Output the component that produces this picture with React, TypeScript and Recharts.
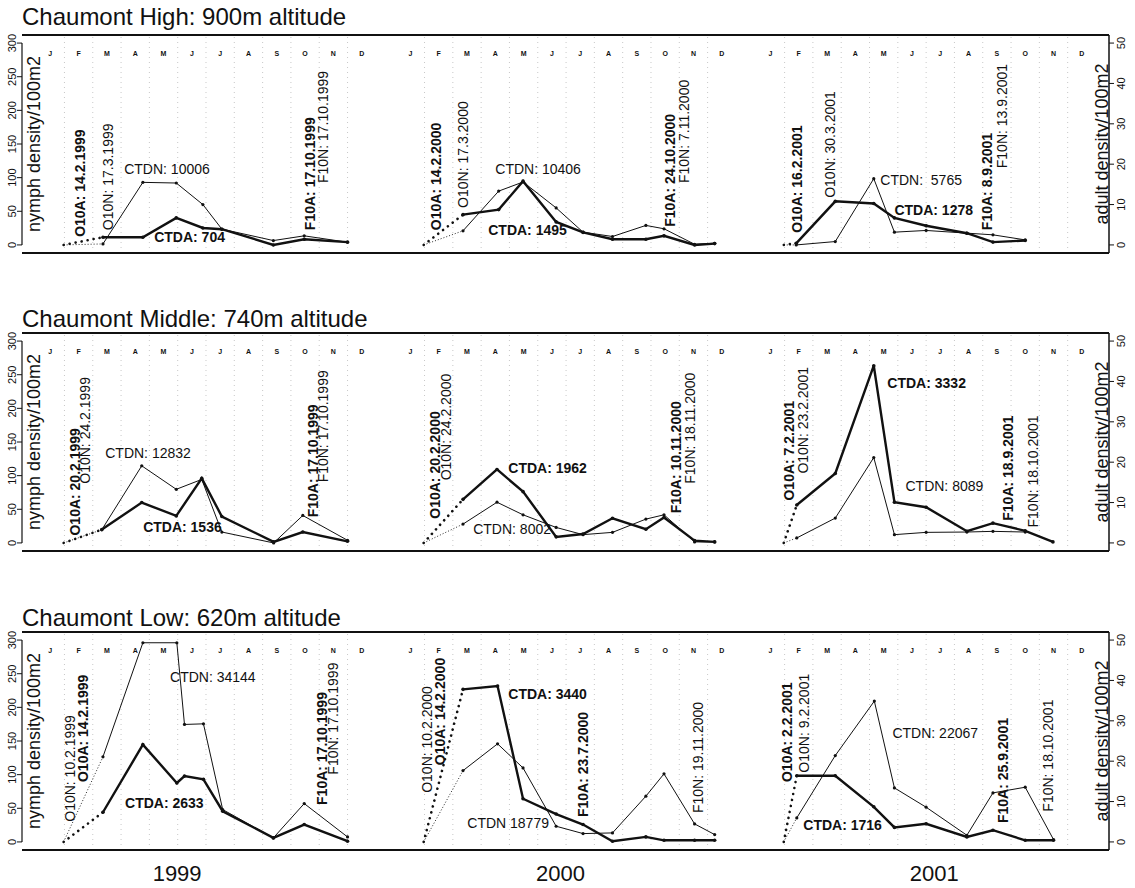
import React from 'react'
import { ComposedChart, Line, Scatter, XAxis, YAxis, ReferenceLine } from 'recharts'

type Pt = [number, number]
// [year index, month position in year, nymph-scale value, text, kind]
type Lab = [number, number, number, string, string]

const monthLetters = ['J', 'F', 'M', 'A', 'M', 'J', 'J', 'A', 'S', 'O', 'N', 'D']
const yearNames = ['1999', '2000', '2001']
const yearLabelMonth = [4.98, 5.8, 6.29]
const nymphTicks = [0, 50, 100, 150, 200, 250, 300]
const adultTicks = [0, 10, 20, 30, 40, 50]
const seasonStart = 0.97

// points are [month position inside the year, density]
const highNymph: Pt[][] = [
  [[2.36, 1.5], [3.77, 93], [4.95, 92], [5.89, 60], [6.56, 23.5], [8.38, 6.5], [9.47, 13.5], [11.0, 4]],
  [[2.36, 21], [3.62, 80], [4.48, 93.5], [5.65, 55], [6.6, 19], [7.64, 12.5], [8.82, 29], [9.46, 24], [10.54, 1], [11.25, 2.5]],
  [[1.41, 0], [2.79, 5], [4.15, 98.5], [4.88, 19], [6.0, 21.5], [7.44, 17.5], [8.36, 15], [9.5, 7.5]],
]
const highAdult: Pt[][] = [
  [[2.36, 1.9], [3.77, 1.9], [4.95, 6.7], [5.89, 4.2], [6.56, 3.9], [8.38, 0], [9.47, 1.4], [11.0, 0.7]],
  [[2.36, 7.5], [3.62, 8.75], [4.48, 15.8], [5.65, 5.7], [6.6, 3.1], [7.64, 1.4], [8.82, 1.4], [9.46, 2.25], [10.54, 0], [11.25, 0.33]],
  [[1.41, 0.4], [2.79, 10.8], [4.15, 10.25], [4.88, 6.7], [6.0, 4.75], [7.44, 2.9], [8.36, 0.7], [9.5, 1.1]],
]
const midNymph: Pt[][] = [
  [[2.32, 19.7], [3.73, 114.6], [4.95, 79.7], [5.85, 94.4], [6.56, 16.2], [8.39, 0], [9.42, 40.8], [11.0, 3.9]],
  [[2.36, 28], [3.56, 60.5], [4.48, 41.8], [5.65, 23], [6.6, 12.3], [7.64, 15.7], [8.82, 35.4], [9.46, 41.8], [10.54, 1.5], [11.25, 1.5]],
  [[1.43, 7.4], [2.79, 36.9], [4.15, 126.9], [4.88, 12.3], [6.0, 15.7], [7.44, 16.2], [8.36, 17.2], [9.5, 16.2]],
]
const midAdult: Pt[][] = [
  [[2.32, 3.3], [3.73, 10], [4.95, 6.7], [5.85, 16], [6.56, 6.55], [8.39, 0.25], [9.42, 2.7], [11.0, 0.4]],
  [[2.36, 10.8], [3.56, 18.2], [4.48, 12.7], [5.65, 1.5], [6.6, 2.2], [7.64, 6.1], [8.82, 3.4], [9.46, 6.3], [10.54, 0.57], [11.25, 0.25]],
  [[1.43, 9.4], [2.79, 17.2], [4.15, 43.9], [4.88, 10.1], [6.0, 8.85], [7.44, 2.9], [8.36, 4.9], [9.5, 3.0], [10.48, 0.25]],
]
const lowNymph: Pt[][] = [
  [[2.36, 126.5], [3.77, 296], [4.97, 296], [5.24, 174.6], [5.91, 175.5], [6.59, 48.1], [8.38, 6], [9.47, 57], [11.0, 7.4]],
  [[2.36, 106], [3.58, 145.8], [4.48, 110], [5.65, 23.3], [6.6, 12.4], [7.64, 13.4], [8.82, 68], [9.46, 101.2], [10.54, 26.8], [11.25, 10.9]],
  [[1.43, 35.7], [2.79, 128.4], [4.17, 209.3], [4.88, 80.3], [6.0, 51.6], [7.44, 9.9], [8.36, 72.9], [9.5, 81.3], [10.5, 3.5]],
]
const lowAdult: Pt[][] = [
  [[2.36, 7.35], [3.77, 24.1], [4.97, 14.6], [5.24, 16.3], [5.91, 15.5], [6.59, 7.6], [8.38, 1.0], [9.47, 4.3], [11.0, 0.17]],
  [[2.36, 37.8], [3.58, 38.6], [4.48, 10.7], [5.65, 6.9], [6.6, 4.3], [7.64, 0.17], [8.82, 1.24], [9.46, 0.4], [10.54, 0.4], [11.25, 0.4]],
  [[1.43, 16.4], [2.79, 16.4], [4.15, 8.7], [4.88, 3.6], [6.0, 4.5], [7.44, 1.24], [8.36, 2.9], [9.5, 0.4], [10.5, 0.4]],
]

// b = bold rotated, n = normal rotated, bh / nh = horizontal
const highLabels: Lab[] = [
  [0, 1.55, 12, 'O10A: 14.2.1999', 'b'],
  [0, 2.54, 22, 'O10N: 17.3.1999', 'n'],
  [0, 3.11, 113, 'CTDN: 10006', 'nh'],
  [0, 4.17, 12, 'CTDA: 704', 'bh'],
  [0, 9.68, 22, 'F10A: 17.10.1999', 'b'],
  [0, 10.14, 92, 'F10N: 17.10.1999', 'n'],
  [1, 1.41, 22, 'O10A: 14.2.2000', 'b'],
  [1, 2.37, 55, 'O10N: 17.3.2000', 'n'],
  [1, 3.5, 113, 'CTDN: 10406', 'nh'],
  [1, 3.25, 22, 'CTDA: 1495', 'bh'],
  [1, 9.68, 27, 'F10A: 24.10.2000', 'b'],
  [1, 10.18, 92, 'F10N: 7.11.2000', 'n'],
  [2, 1.45, 18, 'O10A: 16.2.2001', 'b'],
  [2, 2.61, 70, 'O10N: 30.3.2001', 'n'],
  [2, 4.38, 97, 'CTDN:  5765', 'nh'],
  [2, 4.88, 52, 'CTDA: 1278', 'bh'],
  [2, 8.16, 22, 'F10A: 8.9.2001', 'b'],
  [2, 8.69, 114, 'F10N: 13.9.2001', 'n'],
]
const midLabels: Lab[] = [
  [0, 1.38, 11, 'O10A: 20.2.1999', 'b'],
  [0, 1.73, 88, 'O10N: 24.2.1999', 'n'],
  [0, 2.44, 133, 'CTDN: 12832', 'nh'],
  [0, 3.78, 23, 'CTDA: 1536', 'bh'],
  [0, 9.79, 38, 'F10A: 17.10.1999', 'b'],
  [0, 10.14, 90, 'F10N: 17.10.1999', 'n'],
  [1, 1.38, 36, 'O10A: 20.2.2000', 'b'],
  [1, 1.77, 93, 'O10N: 24.2.2000', 'n'],
  [1, 3.96, 111, 'CTDA: 1962', 'bh'],
  [1, 2.72, 20, 'CTDN: 8002', 'nh'],
  [1, 9.89, 44, 'F10A: 10.11.2000', 'b'],
  [1, 10.39, 88, 'F10N: 18.11.2000', 'n'],
  [2, 1.17, 63, 'O10A: 7.2.2001', 'b'],
  [2, 1.66, 103, 'O10N: 23.2.2001', 'n'],
  [2, 4.63, 237, 'CTDA: 3332', 'bh'],
  [2, 5.27, 85, 'CTDN: 8089', 'nh'],
  [2, 8.9, 33, 'F10A: 18.9.2001', 'b'],
  [2, 9.79, 23, 'F10N: 18.10.2001', 'n'],
]
const lowLabels: Lab[] = [
  [0, 1.2, 30, 'O10N: 10.2.1999', 'n'],
  [0, 1.66, 89, 'O10A: 14.2.1999', 'b'],
  [0, 4.73, 245, 'CTDN: 34144', 'nh'],
  [0, 3.14, 58, 'CTDA: 2633', 'bh'],
  [0, 10.1, 55, 'F10A: 17.10.1999', 'b'],
  [0, 10.49, 100, 'F10N: 17.10.1999', 'n'],
  [1, 1.1, 73, 'O10N: 10.2.2000', 'n'],
  [1, 1.55, 114, 'O10A: 14.2.2000', 'b'],
  [1, 3.96, 220, 'CTDA: 3440', 'bh'],
  [1, 2.51, 28, 'CTDN 18779', 'nh'],
  [1, 6.61, 37, 'F10A: 23.7.2000', 'b'],
  [1, 10.67, 43, 'F10N: 19.11.2000', 'n'],
  [2, 1.1, 89, 'O10A: 2.2.2001', 'b'],
  [2, 1.7, 103, 'O10N: 9.2.2001', 'n'],
  [2, 4.81, 162, 'CTDN: 22067', 'nh'],
  [2, 1.66, 25, 'CTDA: 1716', 'bh'],
  [2, 8.73, 28, 'F10A: 25.9.2001', 'b'],
  [2, 10.32, 45, 'F10N: 18.10.2001', 'n'],
]
const axisTitles: Lab[] = [
  [0, -0.07, 150, 'nymph density/100m2', 'axis'],
  [0, 37.67, 150, 'adult density/100m2', 'axis'],
]

const YEAR_SPAN = 12.72
const X_DOMAIN: [number, number] = [-0.5, 37.9]
const INK = '#111'
const FONT = '"Liberation Sans", Arial, Helvetica, sans-serif'
const PLOT_TOP = 35
const PLOT_H = 218

const xPos = (yi: number, m: number) => yi * YEAR_SPAN + m

const renderText = (p: any) => {
  const { cx, cy, payload } = p
  const k = payload.kind
  if (k === 'month') {
    return (
      <text x={cx} y={cy} textAnchor="middle" dominantBaseline="central" fontSize={7}
        fontWeight="bold" fill={INK} fontFamily={FONT}>{payload.text}</text>
    )
  }
  const bold = k === 'b' || k === 'bh'
  const rotated = k === 'b' || k === 'n' || k === 'axis'
  return (
    <text x={cx} y={cy} transform={rotated ? `rotate(-90 ${cx} ${cy})` : undefined}
      textAnchor={k === 'axis' ? 'middle' : 'start'} dominantBaseline="central"
      fontSize={k === 'axis' ? 18 : 14} fontWeight={bold ? 'bold' : 'normal'}
      fill={INK} fontFamily={FONT} style={{ whiteSpace: 'pre' }}>{payload.text}</text>
  )
}

const rotTick = (p: any) => (
  <text x={p.x} y={p.y} transform={`rotate(-90 ${p.x} ${p.y})`} textAnchor="middle"
    dominantBaseline="central" fontSize={11} fill={INK} fontFamily={FONT}>{p.payload.value}</text>
)

const yearTick = (p: any) => (
  <text x={p.x} y={p.y + 23} textAnchor="middle" dominantBaseline="central" fontSize={22}
    fill={INK} fontFamily={FONT}>{yearNames[p.index]}</text>
)

interface PanelProps {
  title: string
  nymph: Pt[][]
  adult: Pt[][]
  labels: Lab[]
  top: number
  titleY: number
  showYears?: boolean
}

const Panel = ({ title, nymph, adult, labels, top, titleY, showYears }: PanelProps) => {
  const xAxisH = showYears ? 38 : 0
  const height = PLOT_TOP + PLOT_H + (showYears ? xAxisH : 9)

  const series: React.ReactNode[] = []
  nymph.forEach((pts, yi) => {
    const d = pts.map(([m, v]) => ({ x: xPos(yi, m), y: v }))
    series.push(
      <Line key={`nd${yi}`} data={[{ x: xPos(yi, seasonStart), y: 0 }, d[0]]} dataKey="y"
        xAxisId="x" yAxisId="left" stroke={INK} strokeWidth={0.9} strokeDasharray="1 2"
        dot={false} isAnimationActive={false} />
    )
    series.push(
      <Line key={`n${yi}`} data={d} dataKey="y" xAxisId="x" yAxisId="left" stroke={INK}
        strokeWidth={1} dot={{ r: 1.6, fill: INK, stroke: 'none' }} isAnimationActive={false} />
    )
  })
  adult.forEach((pts, yi) => {
    const d = pts.map(([m, v]) => ({ x: xPos(yi, m), y: v }))
    series.push(
      <Line key={`ad${yi}`} data={[{ x: xPos(yi, seasonStart), y: 0 }, d[0]]} dataKey="y"
        xAxisId="x" yAxisId="right" stroke={INK} strokeWidth={2.6} strokeDasharray="0.1 6"
        strokeLinecap="round" dot={false} isAnimationActive={false} />
    )
    series.push(
      <Line key={`a${yi}`} data={d} dataKey="y" xAxisId="x" yAxisId="right" stroke={INK}
        strokeWidth={2.4} dot={{ r: 1.8, fill: INK, stroke: 'none' }} isAnimationActive={false} />
    )
  })

  const grid: React.ReactNode[] = []
  yearNames.forEach((_, yi) => {
    for (let k = 1; k < 12; k++) {
      grid.push(
        <ReferenceLine key={`g${yi}-${k}`} xAxisId="x" yAxisId="left" x={xPos(yi, k)}
          stroke="#b0b0b0" strokeWidth={0.7} strokeDasharray="1 4" />
      )
    }
  })

  const monthData = yearNames.flatMap((_, yi) =>
    monthLetters.map((t, k) => ({ x: xPos(yi, k + 0.5), y: 285, text: t, kind: 'month' }))
  )
  const labelData = [...labels, ...axisTitles].map(([yi, m, v, text, kind]) => ({
    x: xPos(yi, m), y: v, text, kind,
  }))
  const yearTicks = yearLabelMonth.map((m, i) => xPos(i, m))

  return (
    <div style={{ position: 'absolute', left: 0, top, width: 1135, height }}>
      <ComposedChart width={1135} height={height}
        margin={{ top: PLOT_TOP, right: 0, bottom: showYears ? 0 : 9, left: 0 }}>
        <XAxis xAxisId="x" type="number" dataKey="x" domain={X_DOMAIN} allowDataOverflow
          hide={!showYears} ticks={yearTicks} interval={0} height={xAxisH} axisLine={false}
          tickLine={false} tickSize={0} tickMargin={0} tick={yearTick} />
        <YAxis yAxisId="left" dataKey="y" domain={[-12, 312]} allowDataOverflow ticks={nymphTicks}
          interval={0} width={22} axisLine={false} tickSize={5} tickMargin={5}
          tickLine={{ stroke: INK }} tick={rotTick} />
        <YAxis yAxisId="right" orientation="right" dataKey="y" domain={[-2, 52]} allowDataOverflow
          ticks={adultTicks} interval={0} width={26} axisLine={{ stroke: INK, strokeWidth: 1.5 }}
          tickSize={5} tickMargin={7} tickLine={{ stroke: INK }} tick={rotTick} />
        {grid}
        <ReferenceLine xAxisId="x" yAxisId="left" y={312} stroke={INK} strokeWidth={2} />
        <ReferenceLine xAxisId="x" yAxisId="left" y={-12} stroke={INK} strokeWidth={2} />
        <ReferenceLine xAxisId="x" yAxisId="left" ifOverflow="visible" stroke={INK} strokeWidth={1.2}
          segment={[{ x: X_DOMAIN[0], y: 0 }, { x: X_DOMAIN[0], y: 300 }]} />
        {series}
        <Scatter xAxisId="x" yAxisId="left" data={monthData} shape={renderText} isAnimationActive={false} />
        <Scatter xAxisId="x" yAxisId="left" data={labelData} shape={renderText} isAnimationActive={false} />
      </ComposedChart>
      <div style={{
        position: 'absolute', left: 22, top: titleY - 20.3, fontSize: 24, lineHeight: '24px',
        fontFamily: FONT, color: INK, whiteSpace: 'nowrap',
      }}>{title}</div>
    </div>
  )
}

const App = () => (
  <div style={{ position: 'absolute', left: 0, top: 0, width: 1135, height: 888, background: '#fff' }}>
    <Panel title="Chaumont High: 900m altitude" nymph={highNymph} adult={highAdult}
      labels={highLabels} top={0} titleY={25} />
    <Panel title="Chaumont Middle: 740m altitude" nymph={midNymph} adult={midAdult}
      labels={midLabels} top={297.5} titleY={29.5} />
    <Panel title="Chaumont Low: 620m altitude" nymph={lowNymph} adult={lowAdult}
      labels={lowLabels} top={597} titleY={29} showYears />
  </div>
)

export default App
